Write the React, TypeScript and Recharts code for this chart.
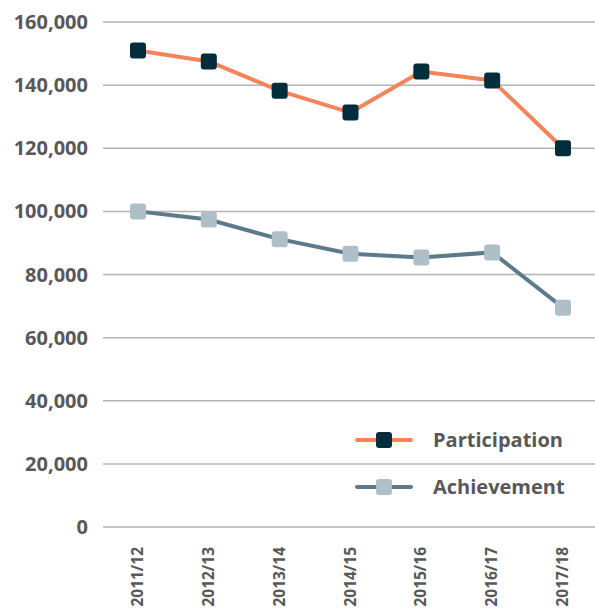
import React from "react";
import { LineChart, Line, XAxis, YAxis, CartesianGrid } from "recharts";

const categories = ["2011/12", "2012/13", "2013/14", "2014/15", "2015/16", "2016/17", "2017/18"];
const participation = [151000, 147500, 138200, 131300, 144300, 141500, 120000];
const achievement = [100000, 97400, 91200, 86600, 85400, 87000, 69500];
const yTicks = [0, 20000, 40000, 60000, 80000, 100000, 120000, 140000, 160000];
const seriesNames = ["Participation", "Achievement"];

const data = categories.map((c, i) => ({
  name: c,
  participation: participation[i],
  achievement: achievement[i],
}));

const FONT = "'Open Sans', sans-serif";
const TEXT = "#585858";
const P_LINE = "#f4845a";
const P_MARK = "#022d3c";
const A_LINE = "#5c7b8a";
const A_MARK = "#afbfc8";

const SquareDot = (fill: string) => (props: any) => {
  const { cx, cy, index } = props;
  if (cx == null || cy == null) return <g key={index} />;
  return <rect key={index} x={cx - 8} y={cy - 8} width={16} height={16} rx={3} ry={3} fill={fill} />;
};

const XTick = (props: any) => {
  const { x, y, payload } = props;
  return (
    <text
      transform={`translate(${x},${y + 12}) rotate(-90)`}
      textAnchor="end"
      dy="0.33em"
      fill={TEXT}
      fontFamily={FONT}
      fontWeight={700}
      fontSize={15.5}
    >
      {payload.value}
    </text>
  );
};

const YTick = (props: any) => {
  const { x, y, payload } = props;
  return (
    <text x={x} y={y} textAnchor="end" dy="0.35em" fill={TEXT} fontFamily={FONT} fontWeight={700} fontSize={20}>
      {Number(payload.value).toLocaleString("en-US")}
    </text>
  );
};

const LegendItem = ({ y, line, mark, label }: { y: number; line: string; mark: string; label: string }) => (
  <g>
    <line x1={357} x2={411} y1={y} y2={y} stroke={line} strokeWidth={4} strokeLinecap="round" />
    <rect x={376} y={y - 8} width={16} height={16} rx={3} fill={mark} />
    <text x={433} y={y} dy="0.35em" fill={TEXT} fontFamily={FONT} fontWeight={700} fontSize={20}>
      {label}
    </text>
  </g>
);

export default function App() {
  return (
    <div style={{ position: "absolute", left: 0, top: 0, width: 595, height: 610, background: "#fff" }}>
      <LineChart width={595} height={610} data={data} margin={{ top: 22, right: 0, bottom: 0, left: 0 }}>
        <CartesianGrid vertical={false} stroke="#b4b4b4" strokeWidth={1.5} />
        <XAxis
          dataKey="name"
          interval={0}
          height={83}
          padding={{ left: 35, right: 32 }}
          axisLine={{ stroke: "#c4c4c4", strokeWidth: 1.5 }}
          tickLine={false}
          tick={<XTick />}
        />
        <YAxis
          width={103}
          domain={[0, 160000]}
          ticks={yTicks}
          axisLine={false}
          tickLine={false}
          tickMargin={9}
          tick={<YTick />}
        />
        <Line
          dataKey="participation"
          name={seriesNames[0]}
          stroke={P_LINE}
          strokeWidth={4}
          dot={SquareDot(P_MARK)}
          activeDot={false}
          isAnimationActive={false}
        />
        <Line
          dataKey="achievement"
          name={seriesNames[1]}
          stroke={A_LINE}
          strokeWidth={4}
          dot={SquareDot(A_MARK)}
          activeDot={false}
          isAnimationActive={false}
        />
      </LineChart>
      <svg style={{ position: "absolute", left: 0, top: 0, pointerEvents: "none" }} width={595} height={610}>
        <LegendItem y={440} line={P_LINE} mark={P_MARK} label={seriesNames[0]} />
        <LegendItem y={487} line={A_LINE} mark={A_MARK} label={seriesNames[1]} />
      </svg>
    </div>
  );
}
